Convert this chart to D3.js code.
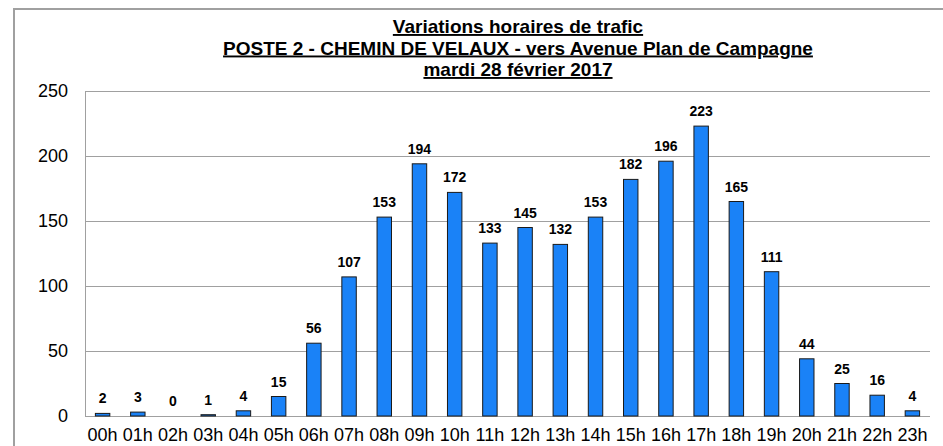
<!DOCTYPE html>
<html lang="fr">
  <head>
    <meta charset="UTF-8">
    <title>Variations horaires de trafic</title>
    <style>
      body { margin: 0; background: #fff; }
      svg text { font-family: "Liberation Sans", Arial, sans-serif; }
    </style>
  </head>
  <body>
    <div id="chart"></div>
    <script src="https://d3js.org/d3.v7.js"></script>
    <script>
      var hours = ["00h","01h","02h","03h","04h","05h","06h","07h","08h","09h","10h","11h",
                   "12h","13h","14h","15h","16h","17h","18h","19h","20h","21h","22h","23h"];
      var counts = [2, 3, 0, 1, 4, 15, 56, 107, 153, 194, 172, 133,
                    145, 132, 153, 182, 196, 223, 165, 111, 44, 25, 16, 4];
      var yTicks = [0, 50, 100, 150, 200, 250];
      var titleLines = ["Variations horaires de trafic",
                        "POSTE 2 - CHEMIN DE VELAUX - vers Avenue Plan de Campagne",
                        "mardi 28 février 2017"];

      var W = 943, H = 446;
      var margin = {top: 91, right: 13, bottom: 30, left: 85},
          width = W - margin.left - margin.right,
          height = H - margin.top - margin.bottom;

      var svg = d3.select("#chart").append("svg")
          .attr("width", W).attr("height", H);

      // outer frame (only top and left visible)
      svg.append("path")
        .attr("d", "M14," + H + "V9H" + W)
        .attr("fill", "none")
        .attr("stroke", "#a0a0a0")
        .attr("stroke-width", 2);

      // title
      var title = svg.append("g");
      titleLines.forEach(function(t, i) {
        title.append("text")
          .attr("x", 518).attr("y", 33 + i * 21.5)
          .attr("text-anchor", "middle")
          .attr("font-size", 19).attr("font-weight", "bold")
          .attr("text-decoration", "underline")
          .text(t);
      });

      var g = svg.append("g")
          .attr("transform", "translate(" + margin.left + "," + margin.top + ")");

      var x = d3.scaleBand().domain(hours).range([0, width]).paddingInner(0.59).paddingOuter(0.295);
      var y = d3.scaleLinear().domain([0, 250]).range([height, 0]);

      // gridlines
      g.selectAll(".grid").data(yTicks).enter().append("line")
        .attr("x1", 0).attr("x2", width)
        .attr("y1", function(d){ return Math.round(y(d)) + 0.5 })
        .attr("y2", function(d){ return Math.round(y(d)) + 0.5 })
        .attr("stroke", "#a0a0a0");

      g.append("line")
        .attr("x1", 0.5).attr("x2", 0.5)
        .attr("y1", 0).attr("y2", height)
        .attr("stroke", "#a0a0a0");

      // y axis labels
      var yAxis = g.append("g")
        .call(d3.axisLeft(y).tickValues(yTicks).tickSize(0).tickPadding(17));
      yAxis.select(".domain").remove();
      yAxis.selectAll("text").attr("font-size", 18).attr("font-family", null).attr("fill", "#000");

      // x axis labels
      var xAxis = g.append("g")
        .attr("transform", "translate(0," + height + ")")
        .call(d3.axisBottom(x).tickSize(0).tickPadding(12));
      xAxis.select(".domain").remove();
      xAxis.selectAll("text").attr("font-size", 18).attr("font-family", null).attr("fill", "#000");

      // bars
      g.selectAll(".bar").data(counts).enter().append("rect")
        .attr("x", function(d, i){ return x(hours[i]) })
        .attr("y", function(d){ return y(d) })
        .attr("width", x.bandwidth())
        .attr("height", function(d){ return height - y(d) })
        .attr("fill", "#1a82f7")
        .attr("stroke", "#1a1a1a")
        .attr("stroke-width", 1);

      // value labels
      g.selectAll(".lbl").data(counts).enter().append("text")
        .attr("x", function(d, i){ return x(hours[i]) + x.bandwidth() / 2 })
        .attr("y", function(d){ return y(d) - 10 })
        .attr("text-anchor", "middle")
        .attr("font-size", 14).attr("font-weight", "bold")
        .text(function(d){ return d });
    </script>
  </body>
</html>
